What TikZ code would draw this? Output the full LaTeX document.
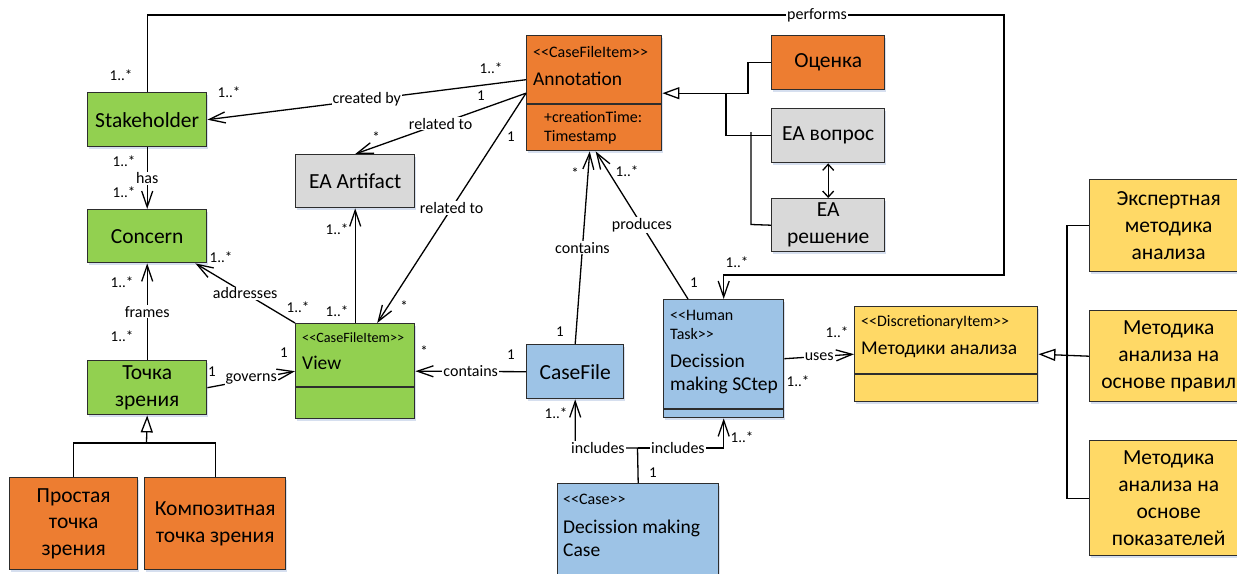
\documentclass[tikz,border=0pt]{standalone}
\usepackage{fontspec}
\setmainfont{Carlito}
\usetikzlibrary{arrows.meta,shadows}
\definecolor{cgreen}{RGB}{146,208,80}
\definecolor{corange}{RGB}{237,125,49}
\definecolor{cgray}{RGB}{217,217,217}
\definecolor{cblue}{RGB}{157,195,230}
\definecolor{cyellow}{RGB}{255,217,102}
\definecolor{cedge}{RGB}{45,45,45}
\definecolor{cshade}{RGB}{196,210,232}
% guillemet-free stereotype brackets
\newcommand\stl{<\kern0pt<}
\newcommand\stg{>\kern0pt>}
\begin{document}
\begin{tikzpicture}[x=1pt,y=-1pt,
  box/.style={draw=cedge, line width=1.4pt, anchor=north west, inner sep=0pt, align=center,
    font=\fontsize{21.5}{26.8}\selectfont,
    drop shadow={shadow xshift=1.5pt, shadow yshift=-2.5pt, fill=cshade, opacity=0.7}},
  sep/.style={draw=cedge, line width=1.4pt},
  cname/.style={anchor=west, inner sep=0pt, align=left, font=\fontsize{19.5}{23}\selectfont},
  stereo/.style={anchor=west, inner sep=0pt, align=left, font=\fontsize{16}{19}\selectfont},
  attr/.style={anchor=west, inner sep=0pt, align=left, font=\fontsize{16}{19}\selectfont},
  lbl/.style={fill=white, inner sep=1pt, font=\fontsize{16}{18}\selectfont},
  mult/.style={inner sep=0pt, font=\fontsize{15}{17}\selectfont},
  conn/.style={draw=black, line width=1.3pt},
  assoc/.style={conn, -{Straight Barb[length=16pt, width=11pt]}},
  gen/.style={conn, -{Triangle[open, length=17pt, width=12pt]}},
  twoway/.style={conn, {Straight Barb[length=6pt, width=11pt]}-{Straight Barb[length=6pt, width=11pt]}}
]
\useasboundingbox (0,0) rectangle (1237,573);

% ---------- plain boxes ----------
\node[box, fill=cgreen, minimum width=119pt, minimum height=54pt] (stake) at (87,92) {Stakeholder};
\node[box, fill=cgreen, minimum width=119pt, minimum height=53pt] (concern) at (87,209) {Concern};
\node[box, fill=cgreen, minimum width=119pt, minimum height=54pt] (vp) at (87,360) {Точка\\зрения};
\node[box, fill=corange, minimum width=128pt, minimum height=92pt] (simple) at (9,477) {Простая\\точка\\зрения};
\node[box, fill=corange, minimum width=141pt, minimum height=92pt] (comp) at (144,477) {Композитная\\точка зрения};
\node[box, fill=cgray, minimum width=119pt, minimum height=53pt] (art) at (295,154) {EA Artifact};
\node[box, fill=corange, minimum width=113pt, minimum height=54pt] (ocenka) at (771,35) {Оценка};
\node[box, fill=cgray, minimum width=113pt, minimum height=54pt] (quest) at (771,108) {EA вопрос};
\node[box, fill=cgray, minimum width=113pt, minimum height=53pt] (sol) at (771,198) {EA\\решение};
\node[box, fill=cblue, minimum width=97pt, minimum height=54pt] (cf) at (526,344) {CaseFile};
\node[box, fill=cyellow, minimum width=158pt, minimum height=92pt] (m1) at (1089,179) {Экспертная\\методика\\анализа};
\node[box, fill=cyellow, minimum width=158pt, minimum height=91pt] (m2) at (1089,310) {Методика\\анализа на\\основе правил};
\node[box, fill=cyellow, minimum width=158pt, minimum height=115pt] (m3) at (1089,440) {Методика\\анализа на\\основе\\показателей};

% ---------- class boxes with compartments ----------
\node[box, fill=corange, minimum width=135pt, minimum height=115pt] (ann) at (526,35) {};
\draw[sep] (526,104) -- (661,104);
\node[stereo] (annst) at (533,52) {\stl CaseFileItem\stg};
\node[cname] (annnm) at (533,79) {Annotation};
\node[attr] (annat) at (544,128) {+creationTime:\\Timestamp};

\node[box, fill=cgreen, minimum width=119pt, minimum height=95pt] (view) at (295,323) {};
\draw[sep] (295,387) -- (414,387);
\node[stereo, font=\fontsize{14.2}{17}\selectfont] (viewst) at (302,338) {\stl CaseFileItem\stg};
\node[cname] (viewnm) at (302,363) {View};

\node[box, fill=cblue, minimum width=120pt, minimum height=118pt] (dstep) at (663,299) {};
\draw[sep] (663,409) -- (783,409);
\node[stereo] (dstepst) at (670,324.5) {\stl Human\\Task\stg};
\node[cname] (dstepnm) at (670,373.5) {Decission\\making SCtep};

\node[box, fill=cblue, minimum width=161pt, minimum height=120pt] (dcase) at (557,483) {};
\node[stereo] (dcasest) at (563,499) {\stl Case\stg};
\node[cname] (dcasenm) at (563,538.5) {Decission making\\Case};

\node[box, fill=cyellow, minimum width=183pt, minimum height=95pt] (meth) at (854,306) {};
\draw[sep] (854,374) -- (1037,374);
\node[stereo] (methst) at (861,322) {\stl DiscretionaryItem\stg};
\node[cname] (methnm) at (861,350) {Методики анализа};

% ---------- associations ----------
\draw[assoc] (stake.south) -- node[lbl] (lhas) {has} (concern.north);
\draw[assoc] (vp.north) -- node[lbl] (lframes) {frames} (concern.south);
\draw[assoc] ([yshift=13.5pt]ann.west) -- node[lbl] (lcreated) {created by} (stake.east);
\draw[assoc] (ann.west) -- node[lbl] (lrel1) {related to} (art.north);
\draw[assoc] (ann.west) -- node[lbl] (lrel2) {related to} ([xshift=22pt]view.north);
\draw[assoc] (view.north west) -- node[lbl] (laddr) {addresses} ([xshift=-12pt]concern.south east);
\draw[assoc] (view.north) -- (art.south);
\draw[assoc] (vp.east) -- node[lbl] (lgov) {governs} (view.west);
\draw[assoc] (cf.west) -- node[lbl] (lcont1) {contains} (view.east);
\draw[assoc] (cf.north) -- node[lbl] (lcont2) {contains} ([xshift=-4.5pt]ann.south);
\draw[assoc] ([xshift=25pt]dstep.north west) -- node[lbl] (lprod) {produces} ([xshift=1.5pt]ann.south);
\draw[assoc] (dstep.east) -- node[lbl] (luses) {uses} (meth.west);

% performs: around the top of the diagram
\coordinate (pfA) at (1004,15);
\coordinate (pfB) at (1004,275);
\draw[assoc] (stake.north) |- (pfA) -- (pfB) -| (dstep.north);
\node[lbl] (lperf) at (817,15) {performs};

% includes: from the case up to the case file and the step
\coordinate (incJ) at (637.5,448);
\draw[assoc] (dcase.north) -- (incJ) -| (cf.south);
\draw[assoc] (incJ) -| (dstep.south);
\node[lbl] (linc1) at (598,448) {includes};
\node[lbl] (linc2) at (678,448) {includes};

% ---------- generalizations ----------
\draw[gen] (ocenka.west) -- ++(-23,0) |- (ann.east);
\coordinate (annJ) at (726,92.5);
\draw[conn] (quest.west) -| (annJ);
\draw[conn] (sol.west) -- (751,224.5) -- (751,132);
\draw[twoway] (quest.south) -- (sol.north);

\coordinate (vpJ) at (146.5,443);
\draw[conn] (simple.north) |- (vpJ) -| (comp.north);
\draw[gen] (vpJ) -- (vp.south);

\coordinate (mJ) at (1067,355);
\draw[gen] (m2.west) -- (meth.east);
\draw[conn] (m1.west) -| (mJ) |- (m3.west);

% ---------- multiplicities ----------
\node[mult] (k1) at (121,75) {1..*};
\node[mult] (k2) at (229,92) {1..*};
\node[mult] (k3) at (491,68) {1..*};
\node[mult] (k4) at (481,96) {1};
\node[mult] (k5) at (376,137) {*};
\node[mult] (k6) at (511,137) {1};
\node[mult] (k7) at (404,306) {*};
\node[mult] (k8) at (124,161) {1..*};
\node[mult] (k9) at (124,192) {1..*};
\node[mult] (k10) at (122,282) {1..*};
\node[mult] (k11) at (122,336) {1..*};
\node[mult] (k12) at (221,257) {1..*};
\node[mult] (k13) at (298,307) {1..*};
\node[mult] (k14) at (337,229) {1..*};
\node[mult] (k15) at (337,311) {1..*};
\node[mult] (k16) at (212,372) {1};
\node[mult] (k17) at (284,353) {1};
\node[mult] (k18) at (511,355) {1};
\node[mult] (k19) at (424,351) {*};
\node[mult] (k20) at (560,332) {1};
\node[mult] (k21) at (575,173) {*};
\node[mult] (k22) at (627,171) {1..*};
\node[mult] (k23) at (694,283) {1};
\node[mult] (k24) at (737,262) {1..*};
\node[mult] (k25) at (556,413) {1..*};
\node[mult] (k26) at (742,437) {1..*};
\node[mult] (k27) at (653,473) {1};
\node[mult] (k28) at (837,332) {1..*};
\node[mult] (k29) at (798,381) {1..*};
\end{tikzpicture}
\end{document}
